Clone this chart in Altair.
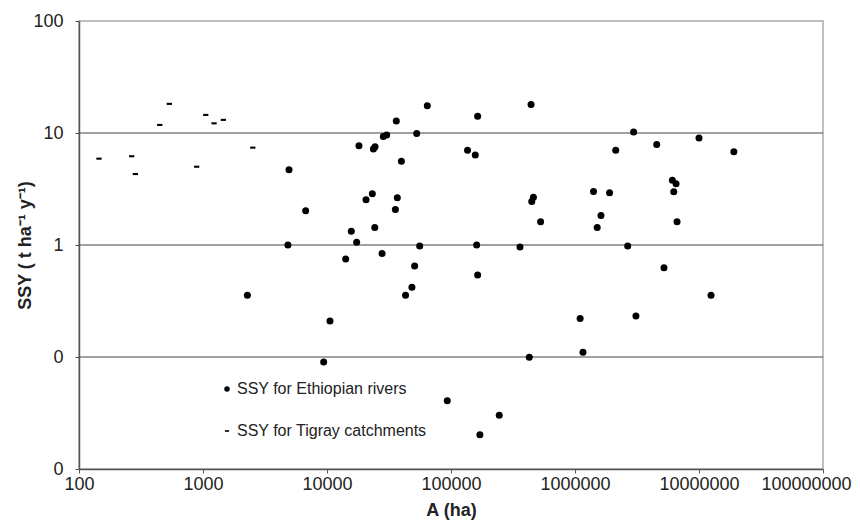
import altair as alt
import pandas as pd

# Ethiopian rivers: catchment area (ha) and SSY (t ha-1 y-1)
eth_area = [4940, 6730, 4840, 14150, 15700, 17340, 18100, 20650, 23200, 23670,
            24400, 24280, 27800, 28450, 30300, 36200, 35600, 36900, 39800, 52900,
            55900, 64400, 50900, 2280, 10570, 9400, 43000, 48400, 164000, 442000,
            136000, 157000, 161000, 360000, 2660000, 2970000, 2130000, 4560000, 10000000, 19100000,
            462000, 448000, 528000, 1410000, 1900000, 1620000, 1510000, 6100000, 6530000, 6260000,
            6650000, 164000, 5220000, 12500000, 1100000, 3100000, 428000, 1160000, 93300, 245000,
            171000]
eth_ssy = [4.7, 2.02, 1.0, 0.75, 1.33, 1.06, 7.7, 2.54, 2.87, 7.2,
           7.55, 1.43, 0.84, 9.3, 9.6, 12.8, 2.08, 2.64, 5.6, 9.9,
           0.98, 17.5, 0.65, 0.356, 0.21, 0.090, 0.356, 0.42, 14.1, 18.0,
           7.0, 6.37, 1.0, 0.96, 0.98, 10.2, 7.0, 7.9, 9.0, 6.8,
           2.67, 2.45, 1.61, 3.01, 2.93, 1.83, 1.43, 3.79, 3.53, 2.99,
           1.61, 0.54, 0.627, 0.356, 0.221, 0.232, 0.0994, 0.110, 0.0407, 0.0302,
           0.0202]

# Tigray catchments
tig_area = [145, 266, 285, 448, 535, 889, 1052, 1228, 1459, 2520]
tig_ssy = [5.9, 6.2, 4.3, 11.8, 18.2, 5.0, 14.5, 12.2, 13.1, 7.4]

series_names = ["SSY for Ethiopian rivers", "SSY for Tigray catchments"]
x_ticks = [100, 1000, 10000, 100000, 1000000, 10000000, 100000000]
y_ticks = [0.01, 0.1, 1, 10, 100]
grid_vals = [0.1, 1, 10]

df = pd.DataFrame({
    "A": eth_area + tig_area,
    "SSY": eth_ssy + tig_ssy,
    "series": [series_names[0]] * len(eth_area) + [series_names[1]] * len(tig_area),
})
grid_df = pd.DataFrame({"g": grid_vals})

FONT = "Liberation Sans"
dash_path = "M-0.75,-0.3H0.75V0.3H-0.75Z"

xscale = alt.Scale(type="log", domain=[100, 100000000], nice=False)
yscale = alt.Scale(type="log", domain=[0.01, 100], nice=False)

y_axis = alt.Axis(values=y_ticks, title="SSY ( t ha⁻¹ y⁻¹)", grid=False,
                  labelExpr="datum.value >= 1 ? format(datum.value, 'd') : '0'",
                  tickSize=4, tickColor="#555555", domainColor="#555555",
                  labelPadding=12, titlePadding=-2)
x_axis = alt.Axis(values=x_ticks, format="d", title="A (ha)", grid=False,
                  tickSize=4, tickColor="#555555", domainColor="#555555",
                  labelPadding=2, titlePadding=8, labelFlush=False,
                  labelOffset={"condition": {"test": "datum.value >= 100000000", "value": -17},
                               "value": 0})

grid = alt.Chart(grid_df).mark_rule(color="#444444", strokeWidth=1.2).encode(
    y=alt.Y("g:Q", scale=yscale, axis=y_axis, title="SSY ( t ha⁻¹ y⁻¹)")
)

points = alt.Chart(df).mark_point(filled=True, opacity=1, strokeWidth=0,
                                  color="black", size=49).encode(
    x=alt.X("A:Q", scale=xscale, axis=x_axis),
    y=alt.Y("SSY:Q", scale=yscale, axis=y_axis),
    shape=alt.Shape("series:N",
                    scale=alt.Scale(domain=series_names, range=["circle", dash_path]),
                    legend=alt.Legend(title=None, orient="none", legendX=140, legendY=360,
                                      labelFontSize=16, labelFont=FONT, labelColor="#222222",
                                      labelLimit=0,
                                      symbolSize=30, labelOffset=2, rowPadding=26,
                                      symbolFillColor="black", symbolStrokeWidth=0)),
)

chart = alt.layer(grid, points).properties(
    width=744, height=448,
    autosize="none",
    padding={"left": 71, "top": 13, "right": 29, "bottom": 56},
).configure_view(
    stroke="#aaaaaa", strokeWidth=1.5
).configure_axis(
    labelFont=FONT, labelFontSize=18, labelColor="#222222",
    titleFont=FONT, titleFontSize=18, titleFontWeight="bold", titleColor="#222222",
    domainWidth=1.5,
)

chart.save("out.html", embed_options={"renderer": "svg", "actions": False})
